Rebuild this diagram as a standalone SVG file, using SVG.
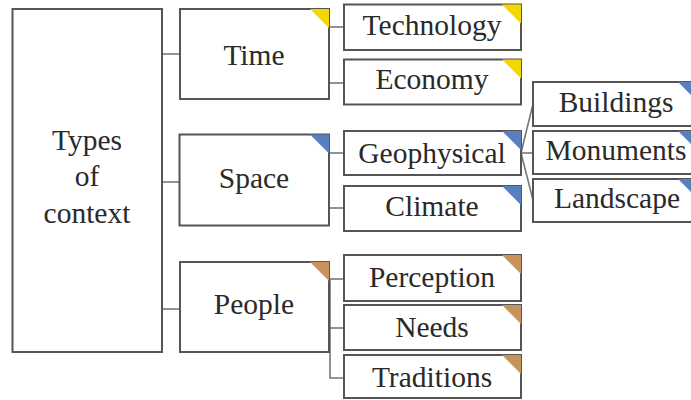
<svg xmlns="http://www.w3.org/2000/svg" width="691" height="400" viewBox="0 0 691 400">
<style>
.box{fill:#fff;stroke:#555;stroke-width:2}
.t{font-family:"Liberation Serif","Times New Roman",serif;font-size:29.5px;fill:#2a2a2a;text-anchor:middle}
.y{fill:#F2D700}
.b{fill:#5A7FBF}
.o{fill:#C6935C}
.c{stroke:#777;stroke-width:1.6;fill:none}
</style>
<rect width="691" height="400" fill="#fff"/>
<g id="connectors">
<line class="c" x1="162" y1="54" x2="180" y2="54"/>
<line class="c" x1="162" y1="182" x2="180" y2="182"/>
<line class="c" x1="162" y1="309" x2="180" y2="309"/>
<line class="c" x1="329" y1="27" x2="344" y2="27"/>
<line class="c" x1="329" y1="83" x2="344" y2="83"/>
<line class="c" x1="329" y1="153" x2="344" y2="153"/>
<line class="c" x1="329" y1="208" x2="344" y2="208"/>
<polyline class="c" points="329,279 344,279"/>
<polyline class="c" points="330,279 330,378 344,378"/>
<line class="c" x1="330" y1="328" x2="344" y2="328"/>
<line class="c" x1="521" y1="153" x2="533" y2="153"/>
<line class="c" x1="521" y1="153" x2="533" y2="104"/>
<line class="c" x1="521" y1="153" x2="533" y2="200"/>
</g>
<g id="types">
<rect class="box" x="12.5" y="9" width="149.5" height="343"/>
<text class="t" x="87" y="150">Types</text>
<text class="t" x="87" y="186">of</text>
<text class="t" x="87" y="223">context</text>
</g>
<g id="time">
<rect class="box" x="180" y="9" width="149" height="90"/>
<polygon class="y" points="310,9 329,9 329,28"/>
<text class="t" x="254" y="65">Time</text>
</g>
<g id="space">
<rect class="box" x="179.5" y="134.5" width="149.5" height="91"/>
<polygon class="b" points="310,134.5 329,134.5 329,153.5"/>
<text class="t" x="254" y="188">Space</text>
</g>
<g id="people">
<rect class="box" x="180" y="262" width="149" height="90"/>
<polygon class="o" points="310,262 329,262 329,281"/>
<text class="t" x="254" y="314">People</text>
</g>
<g id="technology">
<rect class="box" x="344" y="4.5" width="177" height="45.5"/>
<polygon class="y" points="502,4.5 521,4.5 521,23.5"/>
<text class="t" x="432" y="35">Technology</text>
</g>
<g id="economy">
<rect class="box" x="344" y="59.5" width="177" height="45"/>
<polygon class="y" points="502,59.5 521,59.5 521,78.5"/>
<text class="t" x="432" y="89">Economy</text>
</g>
<g id="geophysical">
<rect class="box" x="344" y="131" width="177" height="44"/>
<polygon class="b" points="502,131 521,131 521,150"/>
<text class="t" x="432" y="163">Geophysical</text>
</g>
<g id="climate">
<rect class="box" x="344" y="186" width="177" height="45"/>
<polygon class="b" points="502,186 521,186 521,205"/>
<text class="t" x="432" y="216">Climate</text>
</g>
<g id="perception">
<rect class="box" x="344" y="255" width="177" height="46"/>
<polygon class="o" points="502,255 521,255 521,274"/>
<text class="t" x="432" y="287">Perception</text>
</g>
<g id="needs">
<rect class="box" x="344" y="305" width="177" height="45"/>
<polygon class="o" points="502,305 521,305 521,324"/>
<text class="t" x="432" y="337">Needs</text>
</g>
<g id="traditions">
<rect class="box" x="344" y="355" width="177" height="43"/>
<polygon class="o" points="502,355 521,355 521,374"/>
<text class="t" x="432" y="387">Traditions</text>
</g>
<g id="buildings">
<rect class="box" x="533" y="82" width="164" height="44"/>
<polygon class="b" points="678,82 697,82 697,101"/>
<text class="t" x="616" y="112">Buildings</text>
</g>
<g id="monuments">
<rect class="box" x="533" y="131" width="164" height="43"/>
<polygon class="b" points="678,131 697,131 697,150"/>
<text class="t" x="616" y="160">Monuments</text>
</g>
<g id="landscape">
<rect class="box" x="533" y="179" width="164" height="43"/>
<polygon class="b" points="678,179 697,179 697,198"/>
<text class="t" x="617" y="208">Landscape</text>
</g>
</svg>
